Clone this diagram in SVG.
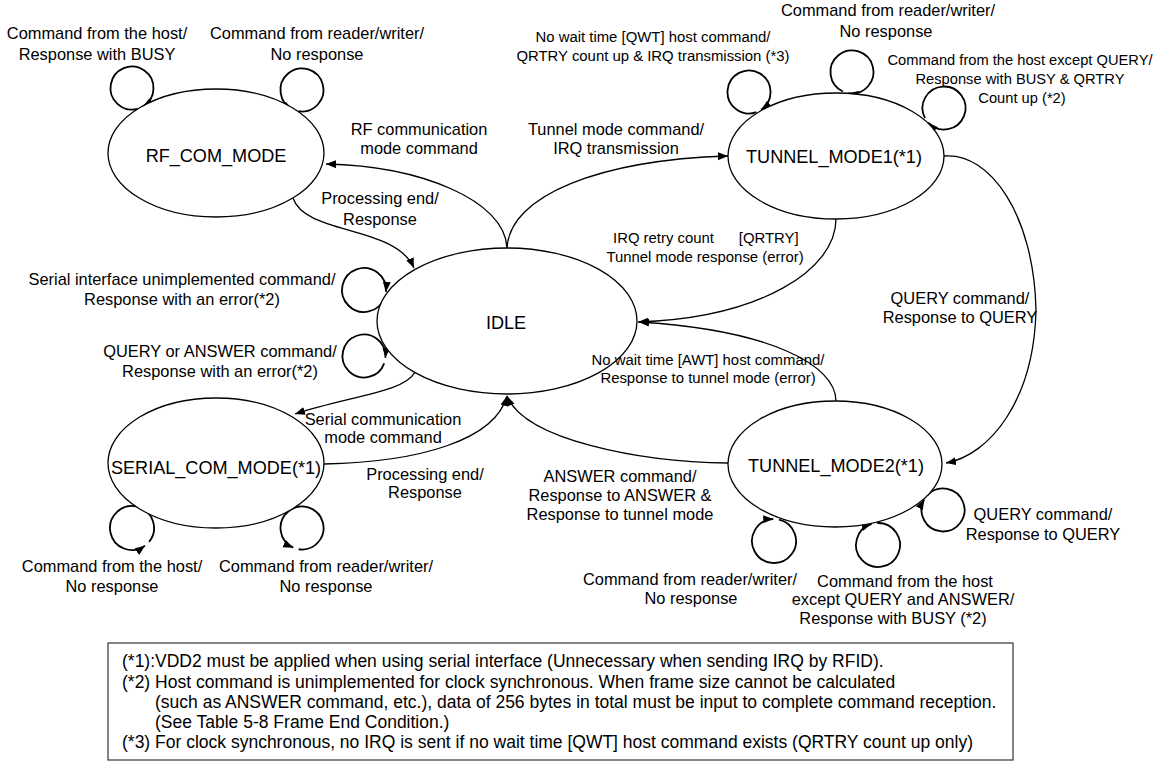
<svg xmlns="http://www.w3.org/2000/svg" width="1163" height="764" viewBox="0 0 1163 764">
<style>
  .st { fill: #fff; stroke: #000; stroke-width: 1.3; }
  .sl { font-family: "Liberation Sans", Arial, sans-serif; font-size: 18.1px; fill: #000; text-anchor: middle; }
  .lb { font-family: "Liberation Sans", Arial, sans-serif; font-size: 16.4px; fill: #000; text-anchor: middle; }
  .sm { font-size: 14.9px; }
  .xs { font-size: 14.7px; }
  .cn { fill: none; stroke: #000; stroke-width: 1.3; marker-end: url(#ah); }
  .lp { fill: none; stroke: #000; stroke-width: 1.8; marker-end: url(#ah); }
  .nt { font-family: "Liberation Sans", Arial, sans-serif; font-size: 17.5px; fill: #000; }
</style>
<defs>
  <marker id="ah" markerUnits="userSpaceOnUse" markerWidth="11" markerHeight="9" refX="10" refY="4" orient="auto">
    <path d="M0,0 L10,4 L0,8 z" fill="#000"/>
  </marker>
</defs>
<rect width="1163" height="764" fill="#fff"/>

<g id="connectors">
  <!-- IDLE -> RF_COM_MODE -->
  <path class="cn" d="M507,248 C505,200 420,166 326,164"/>
  <!-- IDLE -> TUNNEL_MODE1 -->
  <path class="cn" d="M507,248 C510,195 600,160 728,156"/>
  <!-- RF_COM_MODE -> IDLE -->
  <path class="cn" d="M293,198 C305,235 395,225 414,268"/>
  <!-- TUNNEL_MODE1 -> IDLE -->
  <path class="cn" d="M836,219 C836,270 760,318 638,322"/>
  <!-- TUNNEL_MODE2 -> IDLE (AWT) -->
  <path class="cn" d="M836,401 C836,365 770,330 639,322"/>
  <!-- TUNNEL_MODE1 -> TUNNEL_MODE2 -->
  <path class="cn" d="M944,156 C990,152 1034,215 1036,310 C1034,400 990,455 946,463"/>
  <!-- TUNNEL_MODE2 -> IDLE (ANSWER) -->
  <path class="cn" d="M728,463 C640,462 525,440 507,396"/>
  <!-- SERIAL_COM_MODE -> IDLE -->
  <path class="cn" d="M324,464 C420,462 495,440 507,396"/>
  <!-- IDLE -> SERIAL_COM_MODE -->
  <path class="cn" d="M415,372 C405,392 350,396 295,414"/>

  <!-- self loops -->
  <path class="lp" d="M137.56,108.77 A21.5,21.5 0 1 1 142.75,106.62"/>
  <path class="lp" d="M298.27,111.17 A21.5,21.5 0 1 0 292.91,109.49"/>
  <path class="lp" d="M756.35,112.2 A21.5,21.5 0 1 1 761.33,109.61"/>
  <path class="lp" d="M842.91,91.49 A21.5,21.5 0 1 1 848.27,93.17"/>
  <path class="lp" d="M925.02,118.09 A21.5,21.5 0 1 1 928.27,122.66"/>
  <path class="lp" d="M384.67,297.52 A22,22 0 1 1 385.92,291.92"/>
  <path class="lp" d="M384.2,363.35 A21.5,21.5 0 1 1 385.42,357.87"/>
  <path class="lp" d="M149.1,541.84 A22,22 0 1 0 144.93,545.8"/>
  <path class="lp" d="M298.64,549.24 A21.5,21.5 0 1 0 293.26,547.64"/>
  <path class="lp" d="M778.95,519.56 A22,22 0 1 1 773.23,519.01"/>
  <path class="lp" d="M877.23,523.01 A22,22 0 1 1 871.57,523.96"/>
  <path class="lp" d="M927.53,495.06 A21.5,21.5 0 1 1 924.2,499.58"/>
</g>

<g id="node-rf">
  <ellipse class="st" cx="216" cy="153" rx="108" ry="64"/>
  <text class="sl" x="216" y="162">RF_COM_MODE</text>
</g>
<g id="node-idle">
  <ellipse class="st" cx="507" cy="321" rx="130" ry="73"/>
  <text class="sl" x="506" y="329">IDLE</text>
</g>
<g id="node-tunnel1">
  <ellipse class="st" cx="836" cy="156" rx="108" ry="63"/>
  <text class="sl" x="834" y="163">TUNNEL_MODE1(*1)</text>
</g>
<g id="node-tunnel2">
  <ellipse class="st" cx="835" cy="464" rx="107" ry="63"/>
  <text class="sl" x="836" y="472">TUNNEL_MODE2(*1)</text>
</g>
<g id="node-serial">
  <ellipse class="st" cx="216" cy="463" rx="108" ry="65"/>
  <text class="sl" x="216" y="474">SERIAL_COM_MODE(*1)</text>
</g>

<g id="labels">
  <text class="lb" x="97" y="39">Command from the host/</text>
  <text class="lb" x="97" y="60">Response with BUSY</text>
  <text class="lb" x="317" y="39">Command from reader/writer/</text>
  <text class="lb" x="317" y="60">No response</text>
  <text class="lb" x="419" y="135">RF communication</text>
  <text class="lb" x="419" y="154">mode command</text>
  <text class="lb" x="380" y="204">Processing end/</text>
  <text class="lb" x="380" y="225">Response</text>
  <text class="lb sm" x="653" y="42">No wait time [QWT] host command/</text>
  <text class="lb sm" x="653" y="61">QRTRY count up &amp; IRQ transmission (*3)</text>
  <text class="lb" x="616" y="135">Tunnel mode command/</text>
  <text class="lb" x="616" y="154">IRQ transmission</text>
  <text class="lb" x="888" y="16">Command from reader/writer/</text>
  <text class="lb" x="886" y="37">No response</text>
  <text class="lb xs" x="1020" y="65">Command from the host except QUERY/</text>
  <text class="lb xs" x="1020" y="84">Response with BUSY &amp; QRTRY</text>
  <text class="lb xs" x="1022" y="103">Count up (*2)</text>
  <text class="lb sm" x="613" y="243" style="text-anchor:start" xml:space="preserve">IRQ retry count      [QRTRY]</text>
  <text class="lb sm" x="705" y="262">Tunnel mode response (error)</text>
  <text class="lb sm" x="708" y="365">No wait time [AWT] host command/</text>
  <text class="lb sm" x="708" y="383">Response to tunnel mode (error)</text>
  <text class="lb" x="960" y="304">QUERY command/</text>
  <text class="lb" x="960" y="323">Response to QUERY</text>
  <text class="lb" x="182" y="285">Serial interface unimplemented command/</text>
  <text class="lb" x="182" y="305">Response with an error(*2)</text>
  <text class="lb" x="220" y="357">QUERY or ANSWER command/</text>
  <text class="lb" x="220" y="377">Response with an error(*2)</text>
  <text class="lb" x="383" y="425">Serial communication</text>
  <text class="lb" x="383" y="443">mode command</text>
  <text class="lb" x="425" y="480">Processing end/</text>
  <text class="lb" x="425" y="498">Response</text>
  <text class="lb" x="620" y="482">ANSWER command/</text>
  <text class="lb" x="620" y="501">Response to ANSWER &amp;</text>
  <text class="lb" x="620" y="520">Response to tunnel mode</text>
  <text class="lb" x="112" y="572">Command from the host/</text>
  <text class="lb" x="112" y="592">No response</text>
  <text class="lb" x="326" y="572">Command from reader/writer/</text>
  <text class="lb" x="326" y="592">No response</text>
  <text class="lb" x="690" y="585">Command from reader/writer/</text>
  <text class="lb" x="691" y="604">No response</text>
  <text class="lb" x="905" y="587">Command from the host</text>
  <text class="lb" x="903" y="605">except QUERY and ANSWER/</text>
  <text class="lb" x="893" y="624">Response with BUSY (*2)</text>
  <text class="lb" x="1043" y="520">QUERY command/</text>
  <text class="lb" x="1043" y="540">Response to QUERY</text>
</g>

<g id="note">
  <rect x="108" y="643" width="905" height="117" fill="#fff" stroke="#444" stroke-width="1.3"/>
  <text class="nt" x="122" y="667">(*1):VDD2 must be applied when using serial interface (Unnecessary when sending IRQ by RFID).</text>
  <text class="nt" x="122" y="688">(*2) Host command is unimplemented for clock synchronous. When frame size cannot be calculated</text>
  <text class="nt" x="155" y="708">(such as ANSWER command, etc.), data of 256 bytes in total must be input to complete command reception.</text>
  <text class="nt" x="155" y="728">(See Table 5-8 Frame End Condition.)</text>
  <text class="nt" x="122" y="748">(*3) For clock synchronous, no IRQ is sent if no wait time [QWT] host command exists (QRTRY count up only)</text>
</g>
</svg>
